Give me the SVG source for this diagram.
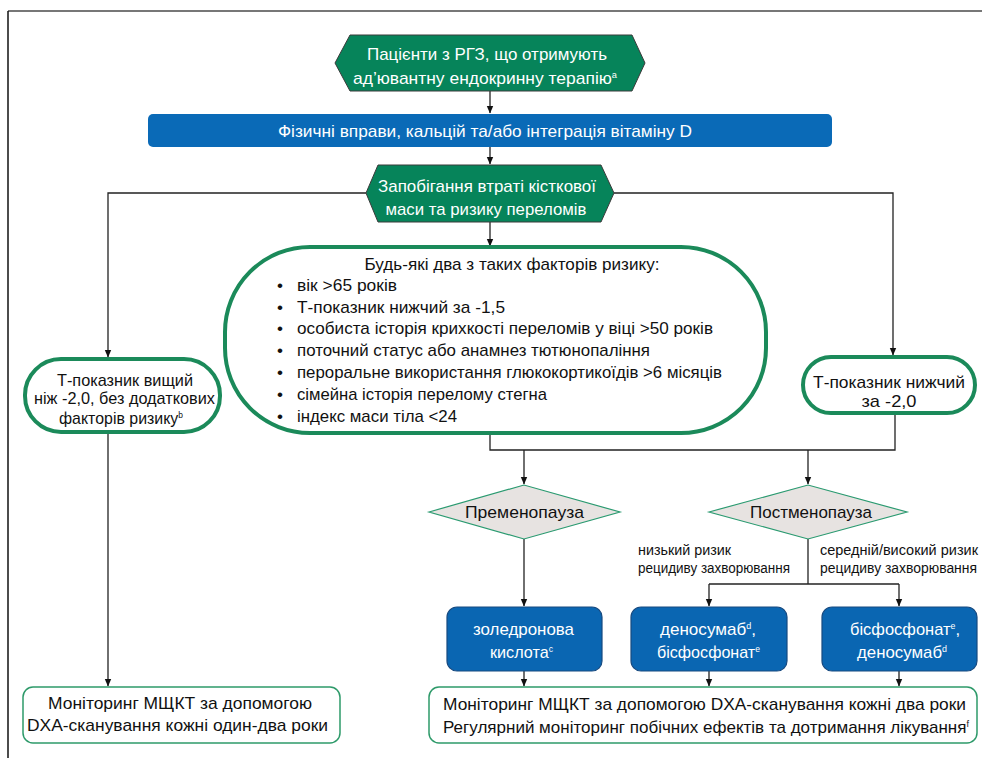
<svg xmlns="http://www.w3.org/2000/svg" width="982" height="758" viewBox="0 0 982 758">
<style>
text{font-family:"Liberation Sans","DejaVu Sans",sans-serif;font-size:17px;fill:#111}
.w{fill:#fff}
.sup{font-size:9px}
.c{text-anchor:middle}
.hex{fill:#06845a;stroke:#3a3a3a;stroke-width:1}
.gnode{fill:#fff;stroke:#1b8a5a;stroke-width:4}
.mon{fill:#fff;stroke:#2e9a6a;stroke-width:1.5}
.dia{fill:#e7e3e1;stroke:#2a9a70;stroke-width:1.2}
.bbox{fill:#0a66b2;stroke:#174a80;stroke-width:1.2}
.ln{fill:none;stroke:#222;stroke-width:1.3}
.lbl{font-size:14px}
</style>
<defs>
<marker id="ah" markerWidth="8" markerHeight="8" refX="7" refY="4" orient="auto" markerUnits="userSpaceOnUse">
<path d="M0,0.8 L7.5,4 L0,7.2 Z" fill="#111"/>
</marker>
</defs>
<g id="frame">
<line x1="8" y1="11" x2="982" y2="11" stroke="#777" stroke-width="2"/>
<line x1="8" y1="11" x2="8" y2="758" stroke="#111" stroke-width="1.5"/>
</g>
<g id="connectors">
<path class="ln" d="M490,91 V113" marker-end="url(#ah)"/>
<path class="ln" d="M490,147 V164" marker-end="url(#ah)"/>
<path class="ln" d="M490,222 V246" marker-end="url(#ah)"/>
<path class="ln" d="M366,193 H108 V357" marker-end="url(#ah)"/>
<path class="ln" d="M614,193 H893 V355" marker-end="url(#ah)"/>
<path class="ln" d="M490,433 V450 H895 V413"/>
<path class="ln" d="M524,450 V484" marker-end="url(#ah)"/>
<path class="ln" d="M808,450 V484" marker-end="url(#ah)"/>
<path class="ln" d="M524,539 V606" marker-end="url(#ah)"/>
<path class="ln" d="M808,539 V584"/>
<path class="ln" d="M709,584 H899"/>
<path class="ln" d="M709,584 V606" marker-end="url(#ah)"/>
<path class="ln" d="M899,584 V606" marker-end="url(#ah)"/>
<path class="ln" d="M524,671 V686" marker-end="url(#ah)"/>
<path class="ln" d="M709,671 V686" marker-end="url(#ah)"/>
<path class="ln" d="M899,671 V686" marker-end="url(#ah)"/>
<path class="ln" d="M108,432 V686" marker-end="url(#ah)"/>
</g>
<g id="start">
<polygon class="hex" points="335,63 350,35 632,35 645,63 632,91 350,91"/>
<text class="w c" x="487" y="60" textLength="240" lengthAdjust="spacingAndGlyphs">Пацієнти з РГЗ, що отримують</text>
<text class="w c" x="485" y="84" textLength="264" lengthAdjust="spacingAndGlyphs">ад’ювантну ендокринну терапію<tspan class="sup" dy="-6">a</tspan></text>
</g>
<g id="exercise">
<rect x="148" y="114" width="684" height="33" rx="5" fill="#0a6ab7"/>
<text class="w c" x="485" y="137" textLength="414" lengthAdjust="spacingAndGlyphs">Фізичні вправи, кальцій та/або інтеграція вітаміну D</text>
</g>
<g id="prevention">
<polygon class="hex" points="366,193 378,165 601,165 614,193 601,222 378,222"/>
<text class="w c" x="487" y="192" textLength="218" lengthAdjust="spacingAndGlyphs">Запобігання втраті кісткової</text>
<text class="w c" x="486" y="215" textLength="201" lengthAdjust="spacingAndGlyphs">маси та ризику переломів</text>
</g>
<g id="risk">
<rect class="gnode" x="225" y="247" width="541" height="186" rx="85" ry="85"/>
<text class="c" x="512" y="270" textLength="295" lengthAdjust="spacingAndGlyphs">Будь-які два з таких факторів ризику:</text>
<text x="277" y="291">•</text><text x="297" y="291" textLength="100" lengthAdjust="spacingAndGlyphs">вік &gt;65 років</text>
<text x="277" y="313">•</text><text x="297" y="313" textLength="208" lengthAdjust="spacingAndGlyphs">Т-показник нижчий за -1,5</text>
<text x="277" y="334">•</text><text x="297" y="334" textLength="416" lengthAdjust="spacingAndGlyphs">особиста історія крихкості переломів у віці &gt;50 років</text>
<text x="277" y="356">•</text><text x="297" y="356" textLength="353" lengthAdjust="spacingAndGlyphs">поточний статус або анамнез тютюнопаління</text>
<text x="277" y="378">•</text><text x="297" y="378" textLength="425" lengthAdjust="spacingAndGlyphs">пероральне використання глюкокортикоїдів &gt;6 місяців</text>
<text x="277" y="400">•</text><text x="297" y="400" textLength="250" lengthAdjust="spacingAndGlyphs">сімейна історія перелому стегна</text>
<text x="277" y="422">•</text><text x="297" y="422" textLength="160" lengthAdjust="spacingAndGlyphs">індекс маси тіла &lt;24</text>
</g>
<g id="tscore-high">
<rect class="gnode" x="25" y="359" width="195" height="73" rx="36"/>
<text class="c" x="125" y="386" textLength="136" lengthAdjust="spacingAndGlyphs">Т-показник вищий</text>
<text class="c" x="124.5" y="404" textLength="181" lengthAdjust="spacingAndGlyphs">ніж -2,0, без додаткових</text>
<text class="c" x="121" y="424" textLength="124" lengthAdjust="spacingAndGlyphs">факторів ризику<tspan class="sup" dy="-6">b</tspan></text>
</g>
<g id="tscore-low">
<rect class="gnode" x="803" y="357" width="172" height="56" rx="28"/>
<text class="c" x="889" y="388" textLength="152" lengthAdjust="spacingAndGlyphs">Т-показник нижчий</text>
<text class="c" x="889" y="407" textLength="55" lengthAdjust="spacingAndGlyphs">за -2,0</text>
</g>
<g id="premenopause">
<polygon class="dia" points="429,512 524,485 620,512 524,539"/>
<text class="c" x="524.5" y="518" textLength="119" lengthAdjust="spacingAndGlyphs">Пременопауза</text>
</g>
<g id="postmenopause">
<polygon class="dia" points="709,512 808,485 907,512 808,539"/>
<text class="c" x="811" y="518" textLength="122" lengthAdjust="spacingAndGlyphs">Постменопауза</text>
</g>
<g id="labels">
<text class="lbl" x="638" y="555" textLength="93" lengthAdjust="spacingAndGlyphs">низький ризик</text>
<text class="lbl" x="638" y="573" textLength="152" lengthAdjust="spacingAndGlyphs">рецидиву захворювання</text>
<text class="lbl" x="820" y="555" textLength="158" lengthAdjust="spacingAndGlyphs">середній/високий ризик</text>
<text class="lbl" x="820" y="573" textLength="157" lengthAdjust="spacingAndGlyphs">рецидиву захворювання</text>
</g>
<g id="zoledronic">
<rect class="bbox" x="447" y="607" width="155" height="64" rx="10"/>
<text class="w c" x="523.5" y="635" textLength="101" lengthAdjust="spacingAndGlyphs">золедронова</text>
<text class="w c" x="521.5" y="658" textLength="63" lengthAdjust="spacingAndGlyphs">кислота<tspan class="sup" dy="-6">c</tspan></text>
</g>
<g id="denosumab-bisph">
<rect class="bbox" x="631" y="607" width="156" height="64" rx="10"/>
<text class="w c" x="708" y="635" textLength="96" lengthAdjust="spacingAndGlyphs">деносумаб<tspan class="sup" dy="-6">d</tspan><tspan dy="6">,</tspan></text>
<text class="w c" x="708.5" y="658" textLength="103" lengthAdjust="spacingAndGlyphs">бісфосфонат<tspan class="sup" dy="-6">e</tspan></text>
</g>
<g id="bisph-denosumab">
<rect class="bbox" x="822" y="607" width="155" height="64" rx="10"/>
<text class="w c" x="905" y="635" textLength="110" lengthAdjust="spacingAndGlyphs">бісфосфонат<tspan class="sup" dy="-6">e</tspan><tspan dy="6">,</tspan></text>
<text class="w c" x="902" y="658" textLength="90" lengthAdjust="spacingAndGlyphs">деносумаб<tspan class="sup" dy="-6">d</tspan></text>
</g>
<g id="monitor-right">
<rect class="mon" x="429" y="687" width="548" height="56" rx="10"/>
<text class="c" x="704.5" y="710" textLength="523" lengthAdjust="spacingAndGlyphs">Моніторинг МЩКТ за допомогою DXA-сканування кожні два роки</text>
<text class="c" x="706" y="733" textLength="526" lengthAdjust="spacingAndGlyphs">Регулярний моніторинг побічних ефектів та дотримання лікування<tspan class="sup" dy="-6">f</tspan></text>
</g>
<g id="monitor-left">
<rect class="mon" x="23" y="687" width="317" height="56" rx="10"/>
<text class="c" x="180" y="709" textLength="264" lengthAdjust="spacingAndGlyphs">Моніторинг МЩКТ за допомогою</text>
<text class="c" x="177.5" y="731" textLength="301" lengthAdjust="spacingAndGlyphs">DXA-сканування кожні один-два роки</text>
</g>
</svg>
